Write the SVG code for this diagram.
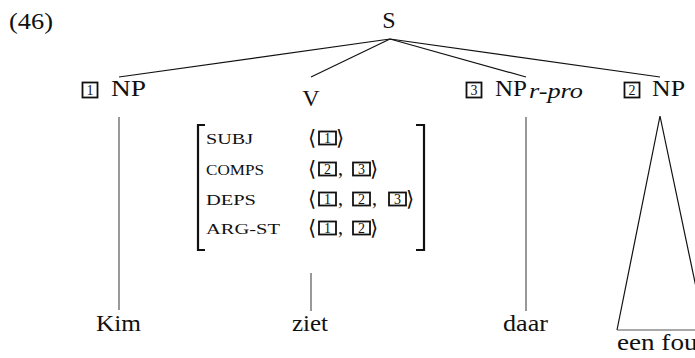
<svg xmlns="http://www.w3.org/2000/svg" width="695" height="358" viewBox="0 0 695 358">
  <style>
    .lbl { font-family: "Liberation Serif", "DejaVu Serif", serif; font-size: 24px; fill: #111; }
    .it { font-family: "Liberation Serif", serif; font-style: italic; font-size: 22px; fill: #111; }
    .feat { font-family: "Liberation Serif", serif; font-size: 15px; fill: #111; }
    .ang { font-family: "DejaVu Serif", serif; font-size: 21px; fill: #111; }
    .com { font-family: "Liberation Serif", serif; font-size: 20px; fill: #111; }
    .tag { fill: none; stroke: #111; stroke-width: 1.8; }
    .tagn { font-family: "Liberation Serif", serif; font-size: 14px; fill: #111; text-anchor: middle; }
    .edge { stroke: #111; stroke-width: 1.2; fill: none; }
    .stem { stroke: #555; stroke-width: 1.2; fill: none; }
    .brk { stroke: #111; stroke-width: 2.2; fill: none; }
  </style>

  <text class="lbl" x="9" y="29" textLength="44" lengthAdjust="spacingAndGlyphs">(46)</text>

  <!-- connectors -->
  <g id="connectors">
    <line class="edge" x1="390" y1="39" x2="119" y2="77"/>
    <line class="edge" x1="390" y1="39" x2="311" y2="77"/>
    <line class="edge" x1="390" y1="39" x2="526" y2="77"/>
    <line class="edge" x1="390" y1="39" x2="660" y2="77"/>
    <line class="stem" x1="119" y1="117" x2="119" y2="310"/>
    <line class="stem" x1="311" y1="273" x2="311" y2="311"/>
    <line class="stem" x1="526" y1="117" x2="526" y2="311"/>
    <path class="edge" d="M660,116 L617,330 M660,116 L705,330"/>
    <line class="stem" x1="617" y1="330" x2="705" y2="330"/>
  </g>

  <g id="s">
    <text class="lbl" x="389" y="28" text-anchor="middle">S</text>
  </g>

  <g id="np1">
    <rect class="tag" x="82.5" y="82.5" width="15" height="15"/>
    <text class="tagn" x="90" y="95">1</text>
    <text class="lbl" x="111" y="96" textLength="35" lengthAdjust="spacingAndGlyphs">NP</text>
  </g>

  <g id="v">
    <text class="lbl" x="311" y="106" text-anchor="middle">V</text>
    <path class="brk" d="M205,125 H198 V250 H205"/>
    <path class="brk" d="M416,125 H424 V250 H416"/>
    <text class="feat" x="206" y="144" textLength="47" lengthAdjust="spacingAndGlyphs">SUBJ</text>
    <text class="feat" x="206" y="175" textLength="58" lengthAdjust="spacingAndGlyphs">COMPS</text>
    <text class="feat" x="206" y="205" textLength="50" lengthAdjust="spacingAndGlyphs">DEPS</text>
    <text class="feat" x="206" y="234" textLength="74" lengthAdjust="spacingAndGlyphs">ARG-ST</text>

    <!-- SUBJ value -->
    <text class="ang" x="308" y="145">⟨</text>
    <rect class="tag" x="319" y="131.5" width="17" height="13"/>
    <text class="tagn" x="327.5" y="143">1</text>
    <text class="ang" x="336" y="145">⟩</text>

    <!-- COMPS value -->
    <text class="ang" x="308" y="176">⟨</text>
    <rect class="tag" x="319" y="162.5" width="17" height="13"/>
    <text class="tagn" x="327.5" y="174">2</text>
    <text class="com" x="338" y="175">,</text>
    <rect class="tag" x="353" y="162.5" width="17" height="13"/>
    <text class="tagn" x="361.5" y="174">3</text>
    <text class="ang" x="370" y="176">⟩</text>

    <!-- DEPS value -->
    <text class="ang" x="308" y="206">⟨</text>
    <rect class="tag" x="319" y="192.5" width="17" height="13"/>
    <text class="tagn" x="327.5" y="204">1</text>
    <text class="com" x="338" y="205">,</text>
    <rect class="tag" x="353" y="192.5" width="17" height="13"/>
    <text class="tagn" x="361.5" y="204">2</text>
    <text class="com" x="372" y="205">,</text>
    <rect class="tag" x="389" y="192.5" width="17" height="13"/>
    <text class="tagn" x="397.5" y="204">3</text>
    <text class="ang" x="406" y="206">⟩</text>

    <!-- ARG-ST value -->
    <text class="ang" x="308" y="235">⟨</text>
    <rect class="tag" x="319" y="221.5" width="17" height="13"/>
    <text class="tagn" x="327.5" y="233">1</text>
    <text class="com" x="338" y="234">,</text>
    <rect class="tag" x="353" y="221.5" width="17" height="13"/>
    <text class="tagn" x="361.5" y="233">2</text>
    <text class="ang" x="370" y="235">⟩</text>
  </g>

  <g id="np3">
    <rect class="tag" x="466.5" y="82.5" width="15" height="15"/>
    <text class="tagn" x="474" y="95">3</text>
    <text class="lbl" x="495" y="96" textLength="32" lengthAdjust="spacingAndGlyphs">NP</text>
    <text class="it" x="529" y="98" textLength="54" lengthAdjust="spacingAndGlyphs">r-pro</text>
  </g>

  <g id="np2">
    <rect class="tag" x="624.5" y="82.5" width="15" height="15"/>
    <text class="tagn" x="632" y="95">2</text>
    <text class="lbl" x="652" y="96" textLength="33" lengthAdjust="spacingAndGlyphs">NP</text>
  </g>

  <g id="kim"><text class="lbl" x="96" y="331" textLength="45" lengthAdjust="spacingAndGlyphs">Kim</text></g>
  <g id="ziet"><text class="lbl" x="292" y="331" textLength="36" lengthAdjust="spacingAndGlyphs">ziet</text></g>
  <g id="daar"><text class="lbl" x="503" y="331" textLength="45" lengthAdjust="spacingAndGlyphs">daar</text></g>
  <g id="een-fout"><text class="lbl" x="617" y="350" textLength="88" lengthAdjust="spacingAndGlyphs">een fout</text></g>
</svg>
